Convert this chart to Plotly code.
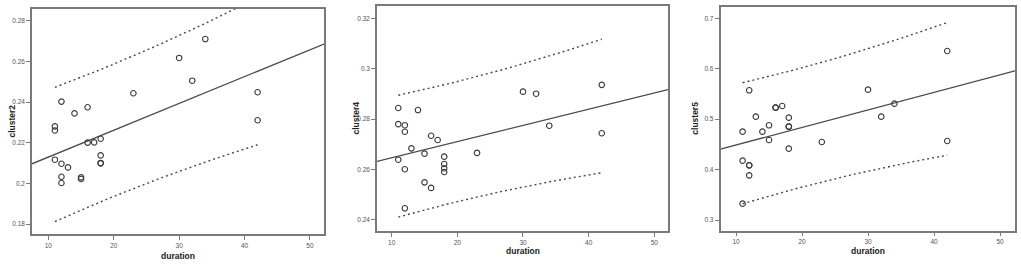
import numpy as np
import plotly.graph_objects as go

# ---- data ----
duration = [11, 11, 11, 12, 12, 12, 12, 13, 14, 15, 15, 16, 16, 17,
            18, 18, 18, 18, 23, 30, 32, 34, 42, 42]

cluster2 = [0.2281, 0.2261, 0.2117, 0.2403, 0.2097, 0.2033, 0.2002, 0.2079,
            0.2345, 0.2030, 0.2022, 0.2375, 0.2201, 0.2202, 0.2220, 0.2138,
            0.2099, 0.2101, 0.2444, 0.2618, 0.2506, 0.2711, 0.2449, 0.2311]

duration4 = [11, 11, 11, 12, 12, 12, 12, 13, 14, 15, 15, 16, 16, 17,
             18, 18, 18, 18, 23, 30, 32, 34, 42, 42]
cluster4 = [0.2844, 0.2780, 0.2639, 0.2776, 0.2750, 0.2601, 0.2446, 0.2684,
            0.2836, 0.2663, 0.2549, 0.2734, 0.2527, 0.2717, 0.2651, 0.2622,
            0.2605, 0.2590, 0.2666, 0.2909, 0.2901, 0.2774, 0.2936, 0.2744]

duration5 = [11, 11, 11, 12, 12, 12, 12, 13, 14, 15, 15, 16, 16, 17,
             18, 18, 18, 18, 23, 30, 32, 34, 42, 42]
cluster5 = [0.4752, 0.4177, 0.3324, 0.5572, 0.4084, 0.4086, 0.3886, 0.5050,
            0.4752, 0.4878, 0.4587, 0.5228, 0.5230, 0.5261, 0.5030, 0.4851,
            0.4853, 0.4415, 0.4547, 0.5585, 0.5050, 0.5307, 0.6352, 0.4567]

x_ticks = [10, 20, 30, 40, 50]
y2_ticks = [0.18, 0.20, 0.22, 0.24, 0.26, 0.28]
y2_labels = ["0.18", "0.2", "0.22", "0.24", "0.26", "0.28"]
y4_ticks = [0.24, 0.26, 0.28, 0.30, 0.32]
y4_labels = ["0.24", "0.26", "0.28", "0.3", "0.32"]
y5_ticks = [0.3, 0.4, 0.5, 0.6, 0.7]
y5_labels = ["0.3", "0.4", "0.5", "0.6", "0.7"]
y_titles = ["cluster2", "cluster4", "cluster5"]
x_title = "duration"

T_CRIT = 2.0739  # t(0.975, df=22)

W, H = 1021, 265
panels = [
    dict(x=duration, y=cluster2, yt=y2_ticks, yl=y2_labels, ytx=11, xty=256,
         xpx=(32, 324), ypx=(9, 234), xr=(7.5, 52.15), yr=(0.1751, 0.2859)),
    dict(x=duration4, y=cluster4, yt=y4_ticks, yl=y4_labels, ytx=355, xty=251,
         xpx=(377, 668), ypx=(6, 231), xr=(7.76, 52.09), yr=(0.2356, 0.3249)),
    dict(x=duration5, y=cluster5, yt=y5_ticks, yl=y5_labels, ytx=695, xty=251,
         xpx=(720.5, 1015), ypx=(6.7, 230.7), xr=(7.65, 52.27), yr=(0.2788, 0.723)),
]


def px_x(v):
    return v / W


def px_y(v):
    return 1 - v / H


fig = go.Figure()
LINE = "#4a4a4a"
FRAME = "#7a7a7a"
ann = []

for i, p in enumerate(panels):
    k = "" if i == 0 else str(i + 1)
    xa, ya = "x" + k, "y" + k
    x = np.array(p["x"], float)
    y = np.array(p["y"], float)
    n = len(x)
    b, a = np.polyfit(x, y, 1)
    resid = y - (a + b * x)
    s = np.sqrt(np.sum(resid ** 2) / (n - 2))
    xbar = x.mean()
    sxx = np.sum((x - xbar) ** 2)

    # fitted line across the axis range
    xf = np.array(p["xr"])
    fig.add_trace(go.Scatter(x=xf, y=a + b * xf, mode="lines", xaxis=xa, yaxis=ya,
                             line=dict(color=LINE, width=1.3), showlegend=False,
                             hoverinfo="skip"))
    # 95% prediction interval over the data range
    xg = np.linspace(x.min(), x.max(), 60)
    half = T_CRIT * s * np.sqrt(1 + 1 / n + (xg - xbar) ** 2 / sxx)
    for sign in (1, -1):
        fig.add_trace(go.Scatter(x=xg, y=a + b * xg + sign * half, mode="lines",
                                 xaxis=xa, yaxis=ya, showlegend=False, hoverinfo="skip",
                                 line=dict(color=LINE, width=1.4, dash="2px,3px")))
    fig.add_trace(go.Scatter(x=x, y=y, mode="markers", xaxis=xa, yaxis=ya,
                             showlegend=False,
                             marker=dict(symbol="circle-open", size=5.5,
                                         line=dict(color="#3a3a3a", width=1.1),
                                         color="#3a3a3a")))

    x0, x1 = p["xpx"]
    y0, y1 = p["ypx"]
    dom_x = [px_x(x0), px_x(x1)]
    dom_y = [px_y(y1), px_y(y0)]
    axis_common = dict(showgrid=False, zeroline=False, showline=True, mirror=True,
                       linecolor=FRAME, linewidth=1.5, ticks="outside", ticklen=4,
                       tickwidth=1, tickcolor=FRAME,
                       tickfont=dict(family="Liberation Sans", size=6.5, color="#555"))
    fig.update_layout(**{
        "xaxis" + k: dict(domain=dom_x, range=list(p["xr"]), tickvals=x_ticks,
                          anchor=ya, **axis_common),
        "yaxis" + k: dict(domain=dom_y, range=list(p["yr"]), tickvals=p["yt"],
                          ticktext=p["yl"], anchor=xa, **axis_common),
    })
    # axis titles
    ann.append(dict(text="<b>" + x_title + "</b>", xref="paper", yref="paper",
                    x=px_x((x0 + x1) / 2), y=px_y(p["xty"]), showarrow=False,
                    font=dict(family="Liberation Sans", size=8.5, color="#222"),
                    xanchor="center", yanchor="middle"))
    ann.append(dict(text="<b>" + y_titles[i] + "</b>", xref="paper", yref="paper",
                    x=px_x(p["ytx"]), y=px_y((y0 + y1) / 2), showarrow=False,
                    textangle=-90,
                    font=dict(family="Liberation Sans", size=8.5, color="#222"),
                    xanchor="center", yanchor="middle"))

fig.update_layout(width=W, height=H, margin=dict(l=0, r=0, t=0, b=0),
                  paper_bgcolor="white", plot_bgcolor="white", annotations=ann)

fig.write_html("out.html", config={"displayModeBar": False},
               post_script="document.body.style.margin='0';document.body.style.overflow='hidden';")
